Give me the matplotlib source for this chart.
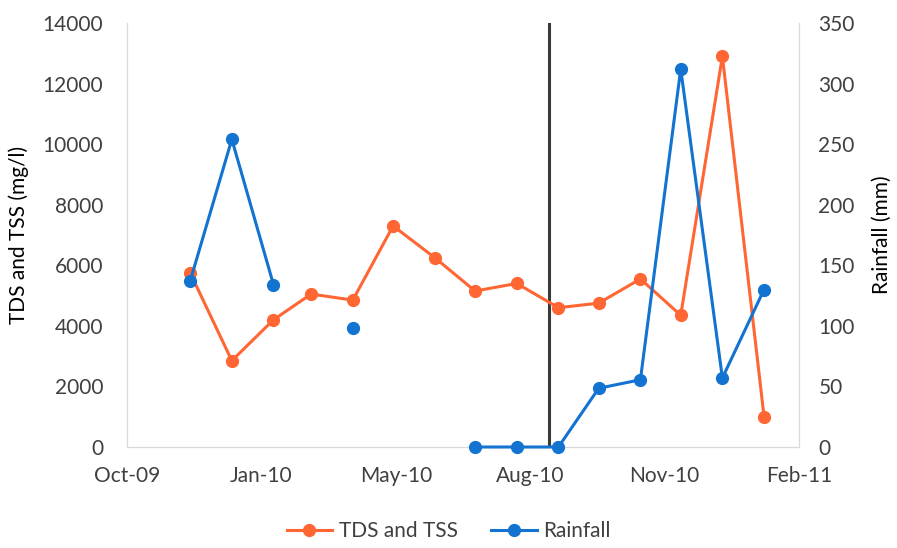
import numpy as np
import pandas as pd
import matplotlib
matplotlib.use("Agg")
import matplotlib.pyplot as plt
import matplotlib.dates as mdates

# monthly samples (end of month)
dates = pd.to_datetime([
    "2009-11-30", "2009-12-31", "2010-01-31", "2010-02-28", "2010-03-31",
    "2010-04-30", "2010-05-31", "2010-06-30", "2010-07-31", "2010-08-31",
    "2010-09-30", "2010-10-31", "2010-11-30", "2010-12-31", "2011-01-31",
])
tds_tss = [5750, 2850, 4200, 5050, 4850, 7300, 6250, 5150, 5400, 4600,
           4750, 5550, 4350, 12900, 1000]
rainfall = [137, 254, 134, np.nan, 98, np.nan, np.nan, 0, 0, 0,
            48.5, 55.5, 312, 57, 130]
marker_date = pd.Timestamp("2010-08-24")
tick_dates = pd.to_datetime(["2009-10-14", "2010-01-22", "2010-05-02",
                             "2010-08-10", "2010-11-18", "2011-02-26"])

ORANGE = "#ff6633"
BLUE = "#1273d0"
TXT = "#404040"
EDGE = "#d9d9d9"

plt.rcParams.update({"font.family": ["Lato", "DejaVu Sans"]})

fig = plt.figure(figsize=(8.97, 5.48), dpi=100)
ax = fig.add_axes([127 / 897, 1 - 447 / 548, 672 / 897, 424 / 548])
ax2 = ax.twinx()

ax.axvline(marker_date, color="#3a3a3a", lw=2.2, zorder=1)
l1, = ax.plot(dates, tds_tss, color=ORANGE, lw=2.2, marker="o", ms=8.5,
              zorder=3, clip_on=False, label="TDS and TSS")
l2, = ax2.plot(dates, rainfall, color=BLUE, lw=2.2, marker="o", ms=8.5,
               zorder=3, clip_on=False, label="Rainfall")

ax.set_xlim(tick_dates[0], tick_dates[-1])
ax.set_ylim(0, 14000)
ax2.set_ylim(0, 350)
ax.set_yticks(np.arange(0, 14001, 2000))
ax2.set_yticks(np.arange(0, 351, 50))
ax.set_xticks(tick_dates)
ax.xaxis.set_major_formatter(mdates.DateFormatter("%b-%y"))

for a in (ax, ax2):
    a.tick_params(length=0, labelsize=15, labelcolor=TXT)
    for s in a.spines.values():
        s.set_color(EDGE)
    a.spines["top"].set_visible(False)
ax.tick_params(axis="y", pad=17)
ax.tick_params(axis="x", pad=14)
ax2.tick_params(axis="y", pad=14)

ax.set_ylabel("TDS and TSS (mg/l)", fontsize=15, color="#000000", labelpad=10)
ax2.set_ylabel("Rainfall (mm)", fontsize=15, color="#000000", labelpad=12)

fig.legend(handles=[l1, l2], loc="lower center", bbox_to_anchor=(0.5, -0.022),
           ncol=2, frameon=False, fontsize=15, labelcolor=TXT,
           handlelength=2.2, columnspacing=1.6, handletextpad=0.3)

fig.savefig("out.png", dpi=100, facecolor="white")
